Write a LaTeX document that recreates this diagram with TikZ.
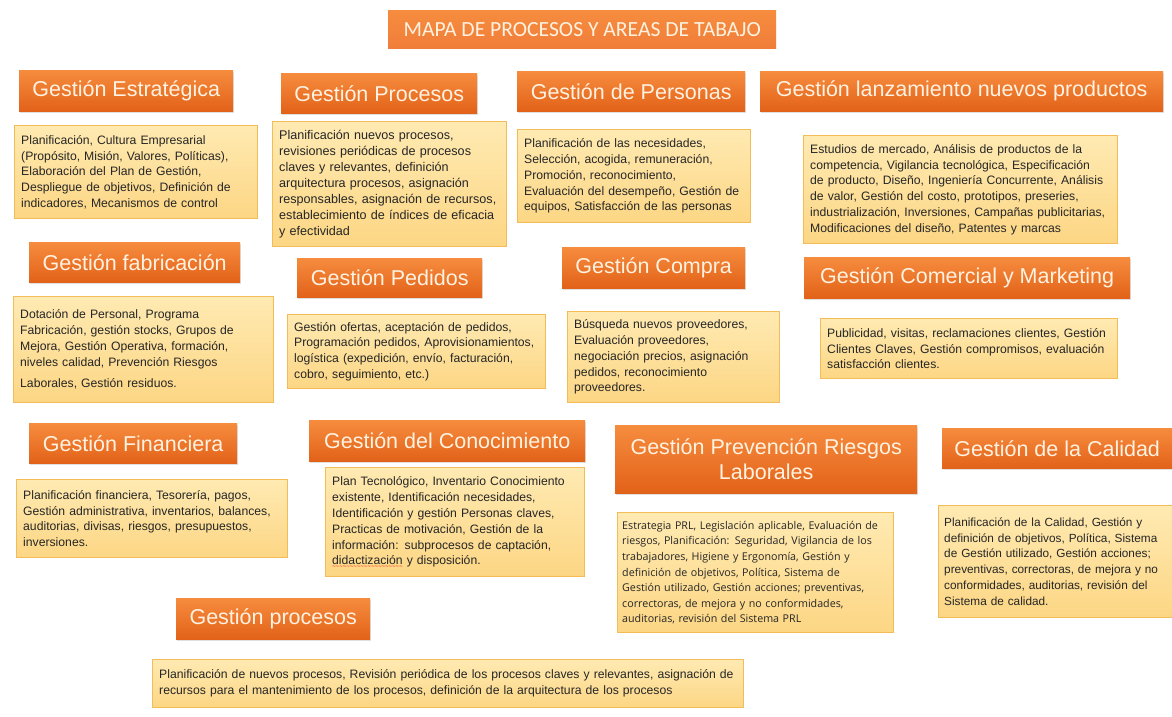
\documentclass[tikz,border=0pt]{standalone}
\usepackage{fontspec}
\setmainfont{Liberation Sans}
\newfontfamily\calibrifont{Carlito}
\newfontfamily\segoefont{Open Sans}
\usetikzlibrary{positioning, shadows}

\definecolor{hdrtop}{RGB}{246,140,62}
\definecolor{hdrbot}{RGB}{226,98,25}
\definecolor{hdrtext}{RGB}{255,242,225}
\definecolor{bodytop}{RGB}{255,234,178}
\definecolor{bodybot}{RGB}{252,214,132}
\definecolor{bodyline}{RGB}{242,188,88}
\definecolor{ttlfill}{RGB}{240,126,58}

% subrayado ondulado rojo (corrector)
\newlength\wavewd
\newcommand\redwave[1]{\leavevmode\settowidth\wavewd{#1}\rlap{\textcolor{red}{\raisebox{-4pt}[0pt][0pt]{\hbox to\wavewd{\xleaders\hbox{\fontsize{6}{6}\selectfont\textasciitilde}\hfil}}}}#1}

\begin{document}
\begin{tikzpicture}[x=1pt, y=-1pt,
  hdr/.style={anchor=north west, inner sep=0pt, align=center, text=hdrtext,
    top color=hdrtop, bottom color=hdrbot,
    drop shadow={opacity=0.25, shadow xshift=1pt, shadow yshift=-1.5pt},
    font=\fontsize{21.5}{24.5}\selectfont},
  body/.style={align=left, inner xsep=7pt, inner ysep=4pt, draw=bodyline,
    top color=bodytop, bottom color=bodybot, text=black!85,
    font=\fontsize{12.2}{15.8}\selectfont}]
\fill[white] (0,0) rectangle (1172,717);
\useasboundingbox (0,0) rectangle (1172,717);

\node [anchor=north west, top color=hdrtop, bottom color=ttlfill, text=hdrtext, minimum width=388pt, minimum height=38pt,
  font=\calibrifont\fontsize{21.6}{24}\selectfont] (ttl) at (388,10) {MAPA DE PROCESOS Y AREAS DE TABAJO};

% primera fila
\node [hdr, minimum width=214pt, minimum height=41pt] (est) at (19,70) {Gestión Estratégica};
\node [body, below right=14pt and -5pt of est.south west, text width=229pt, minimum height=93pt] (estb)
  {Planificación, Cultura Empresarial\\(Propósito, Misión, Valores, Políticas),\\Elaboración del Plan de Gestión,\\Despliegue de objetivos, Definición de\\ indicadores, Mecanismos de control};

\node [hdr, minimum width=196pt, minimum height=40pt] (proc) at (281,73) {Gestión Procesos};
\node [body, below right=8pt and -9pt of proc.south west, text width=220pt, minimum height=125pt,
  font=\fontsize{12.6}{16}\selectfont] (procb)
  {Planificación nuevos procesos,\\revisiones periódicas de procesos\\claves y relevantes, definición\\arquitectura procesos, asignación\\responsables, asignación de recursos,\\establecimiento de índices de eficacia\\y efectividad};

\node [hdr, minimum width=228pt, minimum height=40pt] (pers) at (517,71) {Gestión de Personas};
\node [body, below right=18pt and 0pt of pers.south west, text width=219pt, minimum height=93pt] (persb)
  {Planificación de las necesidades,\\Selección, acogida, remuneración,\\Promoción, reconocimiento,\\Evaluación del desempeño, Gestión de\\equipos, Satisfacción de las personas};

\node [hdr, minimum width=403pt, minimum height=40pt] (lanz) at (760,71) {Gestión lanzamiento nuevos productos};
\node [body, below right=24pt and 43pt of lanz.south west, text width=300pt, minimum height=108pt] (lanzb)
  {Estudios de mercado, Análisis de productos de la\\competencia, Vigilancia tecnológica, Especificación\\de producto, Diseño, Ingeniería Concurrente, Análisis\\de valor, Gestión del costo, prototipos, preseries,\\industrialización, Inversiones, Campañas publicitarias,\\Modificaciones del diseño, Patentes y marcas};

% segunda fila
\node [hdr, minimum width=211pt, minimum height=40pt] (fab) at (29,242) {Gestión fabricación};
\node [body, below right=14pt and -16pt of fab.south west, text width=246pt, minimum height=106pt] (fabb)
  {Dotación de Personal, Programa\\Fabricación, gestión stocks, Grupos de\\Mejora, Gestión Operativa, formación,\\niveles calidad, Prevención Riesgos\\[6pt]Laborales, Gestión residuos.};

\node [hdr, minimum width=185pt, minimum height=39pt] (ped) at (297,258) {Gestión Pedidos};
\node [body, below right=17pt and -10pt of ped.south west, text width=244pt, minimum height=74pt] (pedb)
  {Gestión ofertas, aceptación de pedidos,\\Programación pedidos, Aprovisionamientos,\\logística (expedición, envío, facturación,\\cobro, seguimiento, etc.)};

\node [hdr, minimum width=183pt, minimum height=41pt] (comp) at (562,247) {Gestión Compra};
\node [body, below right=23pt and 5pt of comp.south west, text width=198pt, minimum height=91pt] (compb)
  {Búsqueda nuevos proveedores,\\Evaluación proveedores,\\negociación precios, asignación\\pedidos, reconocimiento\\proveedores.};

\node [hdr, minimum width=326pt, minimum height=41pt] (com) at (804,257) {Gestión Comercial y Marketing};
\node [body, below right=20pt and 16pt of com.south west, text width=283pt, minimum height=60pt] (comb)
  {Publicidad, visitas, reclamaciones clientes, Gestión\\Clientes Claves, Gestión compromisos, evaluación\\satisfacción clientes.};

% tercera fila
\node [hdr, minimum width=208pt, minimum height=40pt] (fin) at (29,423) {Gestión Financiera};
\node [body, below right=16pt and -13pt of fin.south west, text width=257pt, minimum height=78pt] (finb)
  {Planificación financiera, Tesorería, pagos,\\Gestión administrativa, inventarios, balances,\\auditorias, divisas, riesgos, presupuestos,\\inversiones.};

\node [hdr, minimum width=276pt, minimum height=41pt] (con) at (309,420) {Gestión del Conocimiento};
\node [body, below right=6pt and 16pt of con.south west, text width=245pt, minimum height=109pt] (conb)
  {Plan Tecnológico, Inventario Conocimiento\\existente, Identificación necesidades,\\Identificación y gestión Personas claves,\\Practicas de motivación, Gestión de la\\información: subprocesos de captación,\\\redwave{didactización} y disposición.};

\node [hdr, minimum width=302pt, minimum height=68pt] (prl) at (615,425) {Gestión Prevención Riesgos\\Laborales};
\node [body, below right=19pt and 2pt of prl.south west, inner xsep=5pt, text width=266pt, minimum height=120pt,
  font=\segoefont\fontsize{10.7}{15.6}\selectfont] (prlb)
  {Estrategia PRL, Legislación aplicable, Evaluación de\\riesgos, Planificación: Seguridad, Vigilancia de los\\trabajadores, Higiene y Ergonomía, Gestión y\\definición de objetivos, Política, Sistema de\\Gestión utilizado, Gestión acciones; preventivas,\\correctoras, de mejora y no conformidades,\\auditorias, revisión del Sistema PRL};

\node [hdr, minimum width=230pt, minimum height=40pt] (cal) at (942,428) {Gestión de la Calidad};
\node [body, below right=37pt and -4pt of cal.south west, inner xsep=6pt, text width=222pt, minimum height=112pt,
  font=\fontsize{11.8}{15.8}\selectfont] (calb)
  {Planificación de la Calidad, Gestión y\\definición de objetivos, Política, Sistema\\de Gestión utilizado, Gestión acciones;\\preventivas, correctoras, de mejora y no\\conformidades, auditorias, revisión del\\Sistema de calidad.};

% cuarta fila
\node [hdr, minimum width=194pt, minimum height=41pt] (gproc) at (176,598) {Gestión procesos};
\node [body, below right=20pt and -24pt of gproc.south west, text width=577pt, minimum height=48pt] (gprocb)
  {Planificación de nuevos procesos, Revisión periódica de los procesos claves y relevantes, asignación de\\recursos para el mantenimiento de los procesos, definición de la arquitectura de los procesos};
\end{tikzpicture}
\end{document}
